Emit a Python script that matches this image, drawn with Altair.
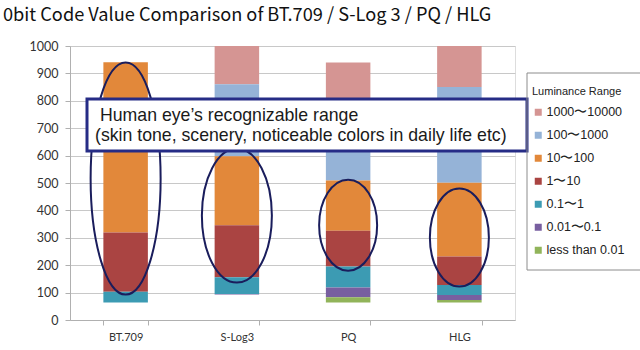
import altair as alt
import pandas as pd

# ---- data ----
categories = ["BT.709", "S-Log3", "PQ", "HLG"]
ranges = ["1000〜10000", "100〜1000", "10〜100", "1〜10", "0.1〜1", "0.01〜0.1", "less than 0.01"]
colors = ["#d59593", "#95b3d7", "#e2883a", "#aa4442", "#3c9bb3", "#785fa0", "#91b45a"]
y_ticks = [0, 100, 200, 300, 400, 500, 600, 700, 800, 900, 1000]

# lower / upper 10-bit code value of each luminance range, per curve (None = not used)
low = {
    "1000〜10000":    [None, 860, 723, 850],
    "100〜1000":      [None, 598, 509, 501],
    "10〜100":        [319, 346, 326, 232],
    "1〜10":          [103, 156, 195, 128],
    "0.1〜1":         [64, 95, 119, 91],
    "0.01〜0.1":      [None, 93, 83, 73],
    "less than 0.01": [None, None, 64, 64],
}
high = {
    "1000〜10000":    [None, 1000, 940, 1000],
    "100〜1000":      [None, 860, 723, 850],
    "10〜100":        [941, 598, 509, 501],
    "1〜10":          [319, 346, 326, 232],
    "0.1〜1":         [103, 156, 195, 128],
    "0.01〜0.1":      [None, 95, 119, 91],
    "less than 0.01": [None, None, 83, 73],
}

# annotation ellipses: centre code value per curve
ellipse_center = [516, 381, 346, 301]
# ellipse radii (pixels, styling)
ellipse_rx = [35, 35, 29, 29.5]
ellipse_ry = [116, 67, 45.5, 49]

title_text = "0bit Code Value Comparison of BT.709 / S-Log 3 / PQ / HLG"
note_line1 = "Human eye’s recognizable range"
note_line2 = "(skin tone, scenery, noticeable colors in daily life etc)"

rows = []
for r in ranges:
    for i, c in enumerate(categories):
        if low[r][i] is not None:
            rows.append({"curve": c, "range": r, "low": low[r][i], "high": high[r][i]})
bars_df = pd.DataFrame(rows)


def ellipse_path(rx, ry):
    k = 0.5523
    return (f"M{rx},0 C{rx},{ry*k} {rx*k},{ry} 0,{ry} "
            f"C{-rx*k},{ry} {-rx},{ry*k} {-rx},0 "
            f"C{-rx},{-ry*k} {-rx*k},{-ry} 0,{-ry} "
            f"C{rx*k},{-ry} {rx},{-ry*k} {rx},0 Z")


ell_df = pd.DataFrame({
    "curve": categories,
    "center": ellipse_center,
    "path": [ellipse_path(a, b) for a, b in zip(ellipse_rx, ellipse_ry)],
})

W, H = 445, 274
AXIS_FONT = "Lato"

x_axis = alt.Axis(labelAngle=0, labelFont=AXIS_FONT, labelFontSize=11, labelColor="#333333",
                  tickBand="extent", tickSize=5, tickColor="#b0b0b0", domainColor="#b0b0b0",
                  labelPadding=6, grid=False)
y_axis = alt.Axis(values=y_ticks, format="d", labelOverlap=False, labelFont=AXIS_FONT, labelFontSize=12.5,
                  labelColor="#333333", tickSize=5, tickColor="#b0b0b0", domainColor="#b0b0b0",
                  gridColor="#c8c8c8", labelPadding=7)
x_scale = alt.Scale(domain=categories, paddingInner=0.6, paddingOuter=0.3)
y_scale = alt.Scale(domain=[0, 1000], nice=False)

bars = alt.Chart(bars_df).mark_bar().encode(
    x=alt.X("curve:N", sort=categories, title=None, scale=x_scale, axis=x_axis),
    y=alt.Y("low:Q", title=None, scale=y_scale, axis=y_axis),
    y2="high:Q",
    color=alt.Color("range:N", sort=ranges, scale=alt.Scale(domain=ranges, range=colors),
                    legend=alt.Legend(title="Luminance Range", orient="none", legendX=462, legendY=40,
                                      symbolType="square", symbolSize=49, symbolStrokeWidth=0,
                                      titleFont="Liberation Sans", titleFontSize=11, titleFontWeight="normal",
                                      titleColor="#222222", titlePadding=9,
                                      labelFont="Liberation Sans", labelFontSize=12.5, labelColor="#222222",
                                      rowPadding=10, labelOffset=2)),
)

ellipses = alt.Chart(ell_df).mark_point(filled=False, stroke="#1a1d5c", strokeWidth=2, size=4, opacity=1).encode(
    x=alt.X("curve:N", sort=categories, title=None, scale=x_scale, axis=x_axis),
    y=alt.Y("center:Q", title=None, scale=y_scale, axis=y_axis),
    shape=alt.Shape("path:N", scale=None, legend=None),
)

box = alt.Chart(pd.DataFrame({"a": [0]})).mark_rect(fill="white", stroke="#262c86", strokeWidth=3).encode(
    x=alt.value(17), x2=alt.value(457), y=alt.value(53), y2=alt.value(105)
)

txt1 = alt.Chart(pd.DataFrame({"t": [note_line1]})).mark_text(
    align="left", baseline="alphabetic", font="Liberation Sans", fontSize=17.7, color="#1a1a1a"
).encode(x=alt.value(30), y=alt.value(75), text="t:N")

txt2 = alt.Chart(pd.DataFrame({"t": [note_line2]})).mark_text(
    align="left", baseline="alphabetic", font="Liberation Sans", fontSize=17.7, color="#1a1a1a"
).encode(x=alt.value(25), y=alt.value(95), text="t:N")

leg_top = alt.Chart(pd.DataFrame({"a": [0]})).mark_rule(color="#8c8c8c", strokeWidth=1).encode(
    x=alt.value(457), x2=alt.value(570), y=alt.value(27), y2=alt.value(27))
leg_left = alt.Chart(pd.DataFrame({"a": [0]})).mark_rule(color="#8c8c8c", strokeWidth=1).encode(
    x=alt.value(457), x2=alt.value(457), y=alt.value(27), y2=alt.value(224))
leg_bot = alt.Chart(pd.DataFrame({"a": [0]})).mark_rule(color="#8c8c8c", strokeWidth=1).encode(
    x=alt.value(457), x2=alt.value(570), y=alt.value(224), y2=alt.value(224))

chart = alt.layer(bars, ellipses, box, txt1, txt2, leg_top, leg_left, leg_bot).properties(
    width=W, height=H,
    title=alt.TitleParams(title_text, anchor="start", frame="group", dx=-67, offset=15,
                          font="Noto Sans CJK JP",
                          fontSize=18.2, fontWeight="normal", color="#111111"),
    autosize=alt.AutoSizeParams(type="none"),
    padding={"left": 70, "top": 46, "right": 125, "bottom": 30},
).configure_view(stroke=None).configure(background="white")

chart.save("out.html", embed_options={"renderer": "svg", "actions": False})
